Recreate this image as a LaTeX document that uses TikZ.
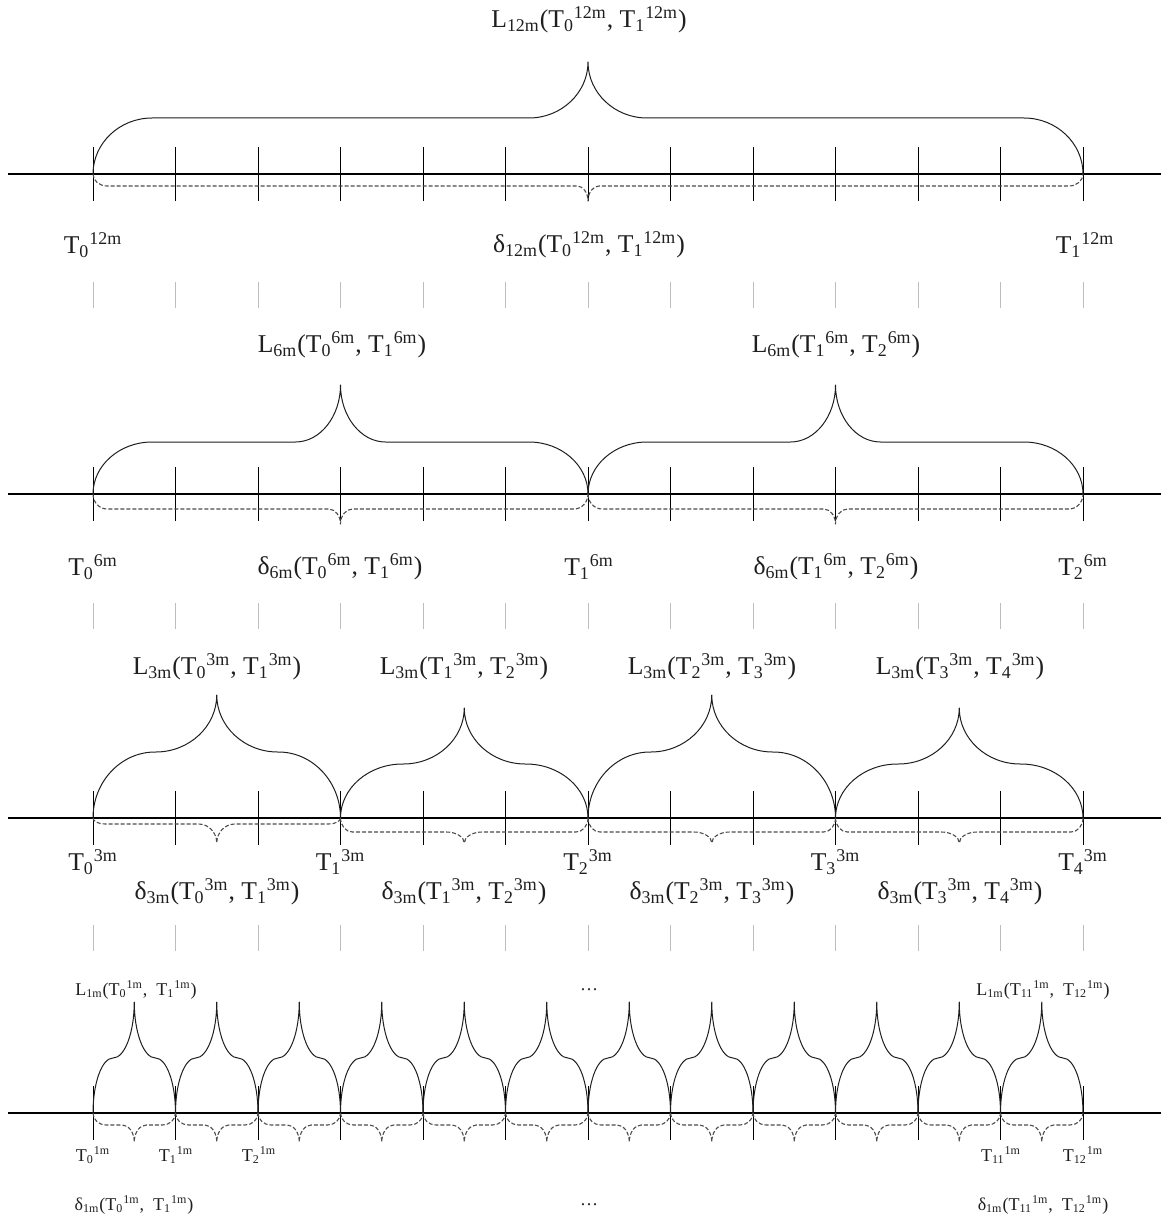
\documentclass[tikz,border=0pt]{standalone}
\usepackage{fontspec}
\setmainfont{Liberation Serif}
\usetikzlibrary{arrows.meta,calc}
\definecolor{GaugeInk}{gray}{0.12}
\definecolor{GaugeDash}{gray}{0.30}
\definecolor{GaugeGhost}{gray}{0.74}
\tikzset{
    gauge/diagram/.style={
        x=0.5pt, y=-0.5pt,
        font=\fontsize{12.8}{15}\selectfont,
        text=GaugeInk,
        line join=round,
        every node/.style={inner sep=1pt, outer sep=0pt}
    },
    gauge/axis/.style={draw=black, line width=0.9pt},
    gauge/tick/.style={draw=black, line width=0.45pt},
    gauge/ghost/.style={draw=GaugeGhost, line width=0.45pt},
    gauge/brace/.style={draw=GaugeInk, line width=0.5pt},
    gauge/dbrace/.style={
        draw=GaugeDash, line width=0.55pt,
        dash pattern=on 2pt off 1pt
    },
    gauge/small/.style={font=\fontsize{9}{11}\selectfont}
}
\newcommand{\tpt}[2]{T\textsubscript{#1}\textsuperscript{#2}}
% brace from (a,y0) to (b,y0): flat at yf, tip at yt, corner and tip widths
\newcommand{\gaugebrace}[8][gauge/brace]{%
    \pgfmathsetmacro{\gbm}{(#2+#3)/2}%
    \draw[#1] (#2,#4) .. controls (#2,{#4+0.55*(#5-#4)}) and ({#2+0.45*#7},#5) .. ({#2+#7},#5)
        -- ({\gbm-#8},#5) .. controls ({\gbm-0.45*#8},#5) and (\gbm,{#5+0.45*(#6-#5)}) .. (\gbm,#6)
        .. controls (\gbm,{#5+0.45*(#6-#5)}) and ({\gbm+0.45*#8},#5) .. ({\gbm+#8},#5)
        -- ({#3-#7},#5) .. controls ({#3-0.45*#7},#5) and (#3,{#4+0.55*(#5-#4)}) .. (#3,#4);%
}

\begin{document}
\begin{tikzpicture}[gauge/diagram]
    \useasboundingbox (0,0) rectangle (1161,1220);
    % axes with ticks
    \foreach \ay in {174,494,818,1113} {
        \draw[gauge/axis] (8,\ay) -- (1161,\ay);
        \foreach \i in {0,...,12}
            \draw[gauge/tick] ({93+82.5*\i},\ay-27) -- ({93+82.5*\i},\ay+27);
    }
    \foreach \gy in {282,603,925}
        \foreach \i in {0,...,12}
            \draw[gauge/ghost] ({93+82.5*\i},\gy) -- ({93+82.5*\i},\gy+26);

    % 12m
    \gaugebrace{93}{1083}{174}{118}{62}{59}{59}
    \gaugebrace[gauge/dbrace]{93}{1083}{174}{186}{201}{14}{11}
    \node (L12) at (589,20) {L\textsubscript{12m}(\tpt{0}{12m}, \tpt{1}{12m})};
    \node (T12a) at (93,245) {\tpt{0}{12m}};
    \node (D12) at (589,245) {δ\textsubscript{12m}(\tpt{0}{12m}, \tpt{1}{12m})};
    \node (T12b) at (1085,245) {\tpt{1}{12m}};

    % 6m
    \foreach \a/\b in {93/588,588/1083} {
        \gaugebrace{\a}{\b}{494}{442}{385}{59}{45}
        \gaugebrace[gauge/dbrace]{\a}{\b}{494}{509}{524}{14}{12}
    }
    \node (L6a) at (342,345) {L\textsubscript{6m}(\tpt{0}{6m}, \tpt{1}{6m})};
    \node (L6b) at (836,345) {L\textsubscript{6m}(\tpt{1}{6m}, \tpt{2}{6m})};
    \foreach \i/\tx in {0/93,1/589,2/1083}
        \node (T6\i) at (\tx,567) {\tpt{\i}{6m}};
    \node (D6a) at (340,567) {δ\textsubscript{6m}(\tpt{0}{6m}, \tpt{1}{6m})};
    \node (D6b) at (836,567) {δ\textsubscript{6m}(\tpt{1}{6m}, \tpt{2}{6m})};

    % 3m
    \foreach \a/\b/\f/\t/\df in {93/340.5/752/695/824,340.5/588/764/708/832,
                                 588/835.5/752/695/832,835.5/1083/764/708/832} {
        \gaugebrace{\a}{\b}{818}{\f}{\t}{62}{61}
        \gaugebrace[gauge/dbrace]{\a}{\b}{818}{\df}{843}{12}{18}
    }
    \foreach \i/\j/\cx in {0/1/217,1/2/464,2/3/712,3/4/960} {
        \node (L3\i) at (\cx,667) {L\textsubscript{3m}(\tpt{\i}{3m}, \tpt{\j}{3m})};
        \node (D3\i) at (\cx,892) {δ\textsubscript{3m}(\tpt{\i}{3m}, \tpt{\j}{3m})};
    }
    \foreach \i in {0,...,4}
        \node (T3\i) at ({93+247.5*\i},862) {\tpt{\i}{3m}};

    % 1m
    \foreach \i [evaluate=\i as \ba using 93+82.5*\i,
                 evaluate=\i as \bb using 175.5+82.5*\i] in {0,...,11} {
        \gaugebrace{\ba}{\bb}{1113}{1058}{1002}{20}{21.2}
        \gaugebrace[gauge/dbrace]{\ba}{\bb}{1113}{1125}{1142}{13}{12}
    }
    \node[gauge/small] (L1a) at (136,990) {L\textsubscript{1m}(\tpt{0}{1m},\ \ \tpt{1}{1m})};
    \node[gauge/small] (L1d) at (589,990) {\dots};
    \node[gauge/small] (L1b) at (1043,990) {L\textsubscript{1m}(\tpt{11}{1m},\ \ \tpt{12}{1m})};
    \foreach \i/\tx in {0/93,1/176,2/259,11/1001,12/1083}
        \node[gauge/small] (T1\i) at (\tx,1155) {\tpt{\i}{1m}};
    \node[gauge/small] (D1a) at (134,1205) {δ\textsubscript{1m}(\tpt{0}{1m},\ \ \tpt{1}{1m})};
    \node[gauge/small] (D1d) at (589,1205) {\dots};
    \node[gauge/small] (D1b) at (1043,1205) {δ\textsubscript{1m}(\tpt{11}{1m},\ \ \tpt{12}{1m})};
\end{tikzpicture}
\end{document}
